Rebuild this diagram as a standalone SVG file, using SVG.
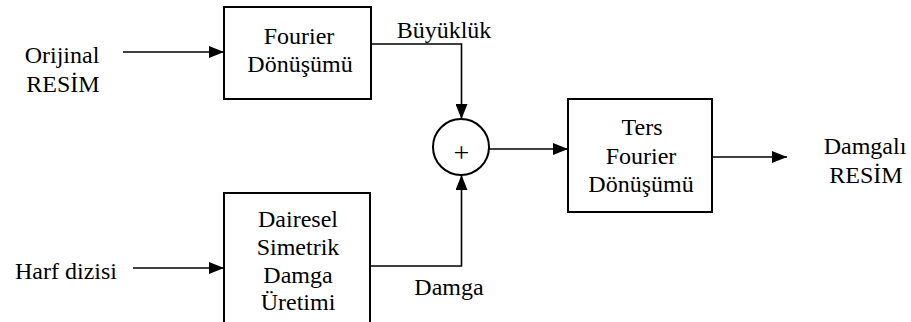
<svg xmlns="http://www.w3.org/2000/svg" width="911" height="322" viewBox="0 0 911 322">
  <style>
    .box { fill: #fff; stroke: #000; stroke-width: 2; }
    .wire { fill: none; stroke: #000; stroke-width: 1.6; }
    text { font-family: "Liberation Serif", "Times New Roman", "DejaVu Serif", serif; font-size: 24px; fill: #000; text-anchor: middle; }
    .op { font-size: 28px; }
  </style>
  <defs>
    <marker id="arrow" markerUnits="userSpaceOnUse" markerWidth="15" markerHeight="12" refX="15" refY="6" orient="auto">
      <path d="M0,0 L15,6 L0,12 z" fill="#000"/>
    </marker>
  </defs>
  <rect width="911" height="322" fill="#fff"/>

  <g id="connectors">
    <line class="wire" x1="123" y1="52" x2="224" y2="52" marker-end="url(#arrow)"/>
    <polyline class="wire" points="371,44 461.5,44 461.5,119" marker-end="url(#arrow)"/>
    <line class="wire" x1="133" y1="268" x2="224" y2="268" marker-end="url(#arrow)"/>
    <polyline class="wire" points="370,266 461.5,266 461.5,175" marker-end="url(#arrow)"/>
    <line class="wire" x1="489" y1="149" x2="568" y2="149" marker-end="url(#arrow)"/>
    <line class="wire" x1="712" y1="157" x2="787" y2="157" marker-end="url(#arrow)"/>
  </g>

  <g id="input-image">
    <text x="62" y="63">Orijinal</text>
    <text x="63" y="92">RESİM</text>
  </g>

  <g id="input-letters">
    <text x="66" y="279">Harf dizisi</text>
  </g>

  <g id="fourier">
    <rect class="box" x="224" y="7" width="147" height="92"/>
    <text x="299" y="44">Fourier</text>
    <text x="300" y="72">Dönüşümü</text>
  </g>

  <g id="watermark-gen">
    <rect class="box" x="224" y="193" width="146" height="140"/>
    <text x="298" y="227">Dairesel</text>
    <text x="298" y="255">Simetrik</text>
    <text x="298" y="283">Damga</text>
    <text x="298" y="310">Üretimi</text>
  </g>

  <g id="sum">
    <circle cx="461" cy="147" r="28" fill="#fff" stroke="#000" stroke-width="2"/>
    <text class="op" x="461.5" y="162">+</text>
  </g>

  <g id="inverse-fourier">
    <rect class="box" x="568" y="99" width="144" height="113"/>
    <text x="642" y="135">Ters</text>
    <text x="641" y="164">Fourier</text>
    <text x="641" y="192">Dönüşümü</text>
  </g>

  <g id="output-image">
    <text x="865" y="154">Damgalı</text>
    <text x="866" y="183">RESİM</text>
  </g>

  <g id="edge-labels">
    <text x="444" y="38">Büyüklük</text>
    <text x="449" y="295">Damga</text>
  </g>
</svg>
